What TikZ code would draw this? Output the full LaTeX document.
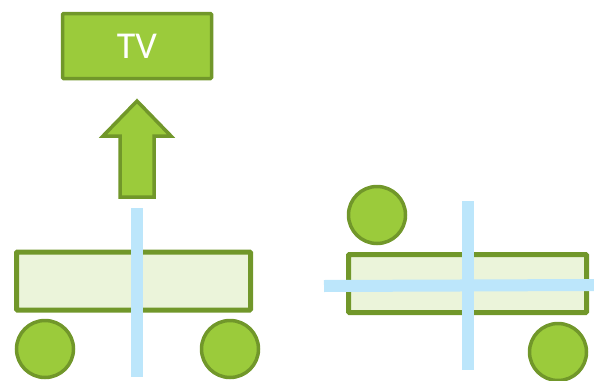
\documentclass[tikz,border=0pt]{standalone}
\usepackage{fontspec}
\setmainfont{Carlito}
\usepackage{tikz}
\usetikzlibrary{positioning, calc}
\definecolor{mygreen}{RGB}{155,203,59}
\definecolor{myolive}{RGB}{113,151,42}
\definecolor{mypale}{RGB}{235,244,218}
\definecolor{myblue}{RGB}{188,230,251}
\tikzset{
  tvbox/.style={rectangle, draw=myolive, fill=mygreen, line width=3.5pt,
    minimum width=149pt, minimum height=65pt, rounded corners=1pt,
    text=white, font=\fontsize{38}{38}\selectfont},
  cartbox/.style={rectangle, draw=myolive, fill=mypale, line width=5pt,
    minimum width=234pt, minimum height=58pt, rounded corners=1pt},
  wheel/.style={circle, draw=myolive, fill=mygreen, line width=3.5pt,
    minimum size=57pt, inner sep=0pt},
  axisline/.style={draw=myblue, line width=12pt},
  bigarrow/.style={draw=myolive, fill=mygreen, line width=3.5pt, line join=miter}
}
\begin{document}
\begin{tikzpicture}[x=1pt, y=-1pt]
  \useasboundingbox (0,0) rectangle (594,380);
  % TV and arrow
  \node[tvbox] (tv) at (137,46) {TV};
  \draw[bigarrow] (137,101) -- (171,136) -- (154,136) -- (154,197)
    -- (120,197) -- (120,136) -- (103,136) -- cycle;
  % left cart
  \coordinate (ltop) at (137,208);
  \coordinate (lbot) at (137,377);
  \node[cartbox] (lcart) at (133.5,281) {};
  \node[wheel] (lw1) at (45,349) {};
  \node[wheel] (lw2) at (230,349) {};
  \draw[axisline] (ltop) -- (lbot);
  % right cart
  \coordinate (rtop) at (468,201);
  \coordinate (rbot) at (468,370);
  \coordinate (rleft) at (324,286);
  \coordinate (rright) at (594,285);
  \node[wheel] (rw1) at (377,215) {};
  \node[cartbox, minimum width=238pt] (rcart) at (467.5,283.5) {};
  \node[wheel] (rw2) at (558,352) {};
  \draw[axisline] (rtop) -- (rbot);
  \draw[axisline] (rleft) -- (rright);
\end{tikzpicture}
\end{document}
